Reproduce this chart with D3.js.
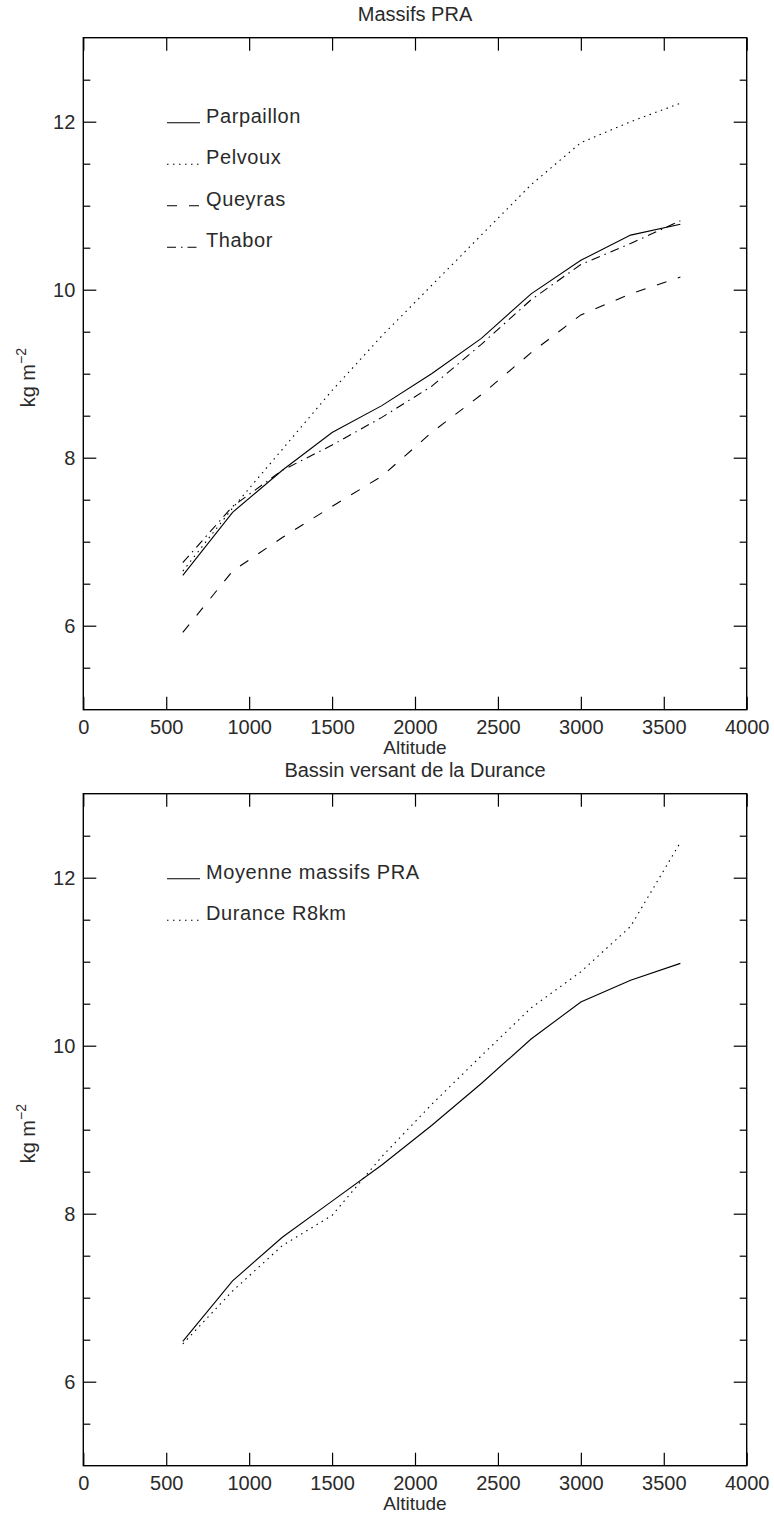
<!DOCTYPE html>
<html>
<head>
    <title>Massifs PRA</title>
    <script src="https://d3js.org/d3.v7.min.js"></script>
    <style>
        body{margin:0;background:#fff;}
        text{font-family:"Liberation Sans",Arial,sans-serif;fill:#2a2a2a;}
    </style>
</head>
<body>
<script>
var w = 774, h = 1521;

// altitudes (m)
var altitudes = [600, 900, 1200, 1500, 1800, 2100, 2400, 2700, 3000, 3300, 3600];

// panneau du haut : massifs
var parpaillon = [6.60, 7.35, 7.85, 8.30, 8.62, 9.00, 9.42, 9.95, 10.35, 10.65, 10.78];
var pelvoux    = [6.65, 7.40, 8.10, 8.80, 9.45, 10.05, 10.65, 11.25, 11.75, 12.00, 12.22];
var queyras    = [5.92, 6.65, 7.05, 7.42, 7.78, 8.30, 8.75, 9.25, 9.70, 9.95, 10.15];
var thabor     = [6.75, 7.42, 7.85, 8.15, 8.48, 8.85, 9.35, 9.88, 10.30, 10.55, 10.82];

// panneau du bas : Durance
var moyenne  = [6.48, 7.20, 7.72, 8.15, 8.58, 9.05, 9.55, 10.08, 10.52, 10.78, 10.98];
var durance  = [6.45, 7.08, 7.62, 7.98, 8.68, 9.30, 9.88, 10.45, 10.88, 11.42, 12.42];

var xTicks = [0, 500, 1000, 1500, 2000, 2500, 3000, 3500, 4000];
var yMajor = [6, 8, 10, 12];
var yMinor = [5.5, 6.5, 7, 7.5, 8.5, 9, 9.5, 10.5, 11, 11.5, 12.5];

var styles = {
    solid: null,
    dotted: "1.5,4.5",
    dashed: "10,12",
    dashdot: "9,5,1.5,5"
};

var panels = [
    {title: "Massifs PRA", top: 37.7, series: [
        {name: "Parpaillon", values: parpaillon, style: "solid"},
        {name: "Pelvoux", values: pelvoux, style: "dotted"},
        {name: "Queyras", values: queyras, style: "dashed"},
        {name: "Thabor", values: thabor, style: "dashdot"}
    ]},
    {title: "Bassin versant de la Durance", top: 793.7, series: [
        {name: "Moyenne massifs PRA", values: moyenne, style: "solid"},
        {name: "Durance R8km", values: durance, style: "dotted"}
    ]}
];

var svg = d3.select("body").append("svg")
    .attr("width", w)
    .attr("height", h);

var left = 83.3, right = 746.7, plotH = 672;

var x = d3.scaleLinear().domain([0, 4000]).range([left, right]);

panels.forEach(function(p){
    var y = d3.scaleLinear().domain([5, 13]).range([p.top + plotH, p.top]);
    var g = svg.append("g");

    // cadre
    g.append("rect")
        .attr("x", left).attr("y", p.top)
        .attr("width", right - left).attr("height", plotH)
        .attr("fill", "none").attr("stroke", "#000").attr("stroke-width", 1.4);

    // axe x bas
    var xb = g.append("g").attr("transform", "translate(0," + (p.top + plotH) + ")")
        .call(d3.axisBottom(x).tickValues(xTicks).tickSizeInner(-13).tickSizeOuter(0).tickPadding(10)
            .tickFormat(d3.format("d")));
    // axe x haut
    var xt = g.append("g").attr("transform", "translate(0," + p.top + ")")
        .call(d3.axisTop(x).tickValues(xTicks).tickSizeInner(-13).tickSizeOuter(0).tickFormat(""));

    // axes y
    var yl = g.append("g").attr("transform", "translate(" + left + ",0)")
        .call(d3.axisLeft(y).tickValues(yMajor).tickSizeInner(-13).tickSizeOuter(0).tickPadding(8)
            .tickFormat(d3.format("d")));
    var ylm = g.append("g").attr("transform", "translate(" + left + ",0)")
        .call(d3.axisLeft(y).tickValues(yMinor).tickSizeInner(-7).tickSizeOuter(0).tickFormat(""));
    var yr = g.append("g").attr("transform", "translate(" + right + ",0)")
        .call(d3.axisRight(y).tickValues(yMajor).tickSizeInner(-13).tickSizeOuter(0).tickFormat(""));
    var yrm = g.append("g").attr("transform", "translate(" + right + ",0)")
        .call(d3.axisRight(y).tickValues(yMinor).tickSizeInner(-7).tickSizeOuter(0).tickFormat(""));

    [xb, xt, yl, ylm, yr, yrm].forEach(function(a){
        a.select(".domain").remove();
        a.selectAll("line").attr("stroke", "#000").attr("stroke-width", 1.2);
        a.selectAll("text").style("font-family", "Liberation Sans").style("font-size", "20px").attr("fill", "#2a2a2a");
    });

    // titres
    g.append("text")
        .attr("x", (left + right) / 2).attr("y", p.top - 17)
        .attr("text-anchor", "middle").style("font-size", "20px")
        .text(p.title);
    g.append("text")
        .attr("x", (left + right) / 2).attr("y", p.top + plotH + 44)
        .attr("text-anchor", "middle").style("font-size", "19px")
        .text("Altitude");
    var yt = g.append("text")
        .attr("transform", "translate(35," + (p.top + plotH / 2 + 4) + ") rotate(-90)")
        .attr("text-anchor", "middle").style("font-size", "20px");
    yt.append("tspan").text("kg m");
    yt.append("tspan").attr("dy", -9).style("font-size", "14px").text("\u22122");

    // courbes
    var line = d3.line()
        .x(function(d, i){ return x(altitudes[i]); })
        .y(function(d){ return y(d); });

    p.series.forEach(function(s, i){
        g.append("path")
            .datum(s.values)
            .attr("d", line)
            .attr("fill", "none")
            .attr("stroke", "#000")
            .attr("stroke-width", 1.1)
            .attr("stroke-dasharray", styles[s.style]);

        // légende
        var ly = p.top + 85 + i * 41.5;
        g.append("line")
            .attr("x1", 167).attr("x2", 200)
            .attr("y1", ly).attr("y2", ly)
            .attr("stroke", "#000").attr("stroke-width", 1.1)
            .attr("stroke-dasharray", styles[s.style]);
        g.append("text")
            .attr("x", 206).attr("y", ly)
            .style("font-size", "20px")
            .style("letter-spacing", "0.6px")
            .text(s.name);
    });
});
</script>
</body>
</html>
